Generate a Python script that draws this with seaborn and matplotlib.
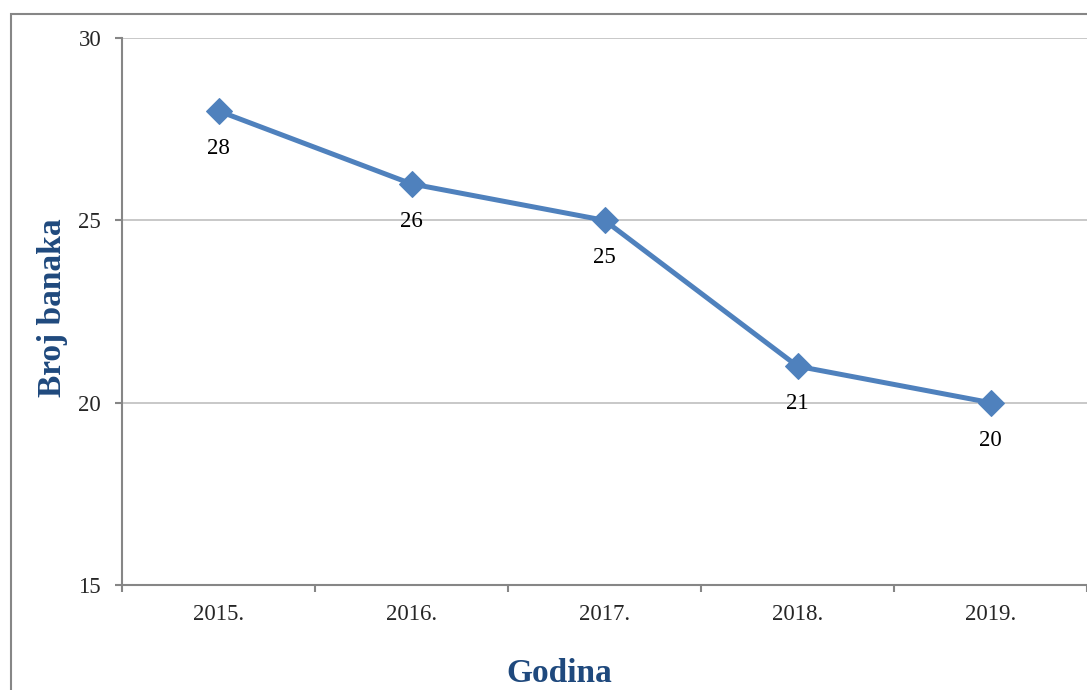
import matplotlib
matplotlib.use("Agg")
import matplotlib.pyplot as plt
import seaborn as sns
import pandas as pd
from matplotlib.patches import Rectangle

# Data
godine = ["2015.", "2016.", "2017.", "2018.", "2019."]
broj_banaka = [28, 26, 25, 21, 20]

data = pd.DataFrame({"godina": godine, "broj": broj_banaka})

sns.set_theme(style="white")
plt.rcParams['font.family'] = ['Liberation Serif', 'DejaVu Serif']

fig = plt.figure(figsize=(10.87, 6.90), dpi=100)
ax = fig.add_axes([122 / 1087, 1 - 585 / 690, 1 - 122 / 1087, (585 - 38) / 690])

# outer chart border (cut at right/bottom like the original)
fig.patches.append(Rectangle((11 / 1087, -0.1), 1.2, 1 - 14 / 690 + 0.1,
                             transform=fig.transFigure, fill=False,
                             edgecolor='#868686', linewidth=1.5, zorder=0))

line_col = '#4F81BD'
sns.lineplot(data=data, x="godina", y="broj", ax=ax, color=line_col,
             linewidth=3.6, marker='D', markersize=13, markeredgecolor=line_col,
             sort=False)

for i, v in enumerate(broj_banaka):
    ax.annotate(str(v), (i, v), xytext=(0, -27), textcoords='offset points',
                ha='center', va='center', fontsize=16.5, color='black')

ax.set_ylim(15, 30)
ax.set_yticks([15, 20, 25, 30])
ax.set_xlim(-0.5, 4.5)
ax.grid(axis='y', color='#BFBFBF', linewidth=1.2)
ax.set_axisbelow(True)

for side in ['top', 'right']:
    ax.spines[side].set_visible(False)
for side in ['left', 'bottom']:
    ax.spines[side].set_color('#868686')
    ax.spines[side].set_linewidth(1.5)

ax.tick_params(axis='y', labelsize=16.5, length=5, width=1.5, color='#868686',
               pad=10, left=True)
ax.tick_params(axis='x', which='major', labelsize=16.5, length=0, pad=14)
ax.set_xticks([x - 0.5 for x in range(6)], minor=True)
ax.tick_params(axis='x', which='minor', length=5, width=1.5, color='#868686',
               bottom=True)

ax.set_xlabel('Godina', fontsize=24, fontweight='bold', color='#1F497D')
ax.set_ylabel('Broj banaka', fontsize=24, fontweight='bold', color='#1F497D')
ax.xaxis.label.set_va('center')
ax.yaxis.label.set_va('center')
ax.xaxis.set_label_coords((559 - 122) / (1087 - 122), -(673 - 585) / (585 - 38))
ax.yaxis.set_label_coords(-(122 - 53) / (1087 - 122), (585 - 308) / (585 - 38))

fig.savefig('out.png', dpi=100)
